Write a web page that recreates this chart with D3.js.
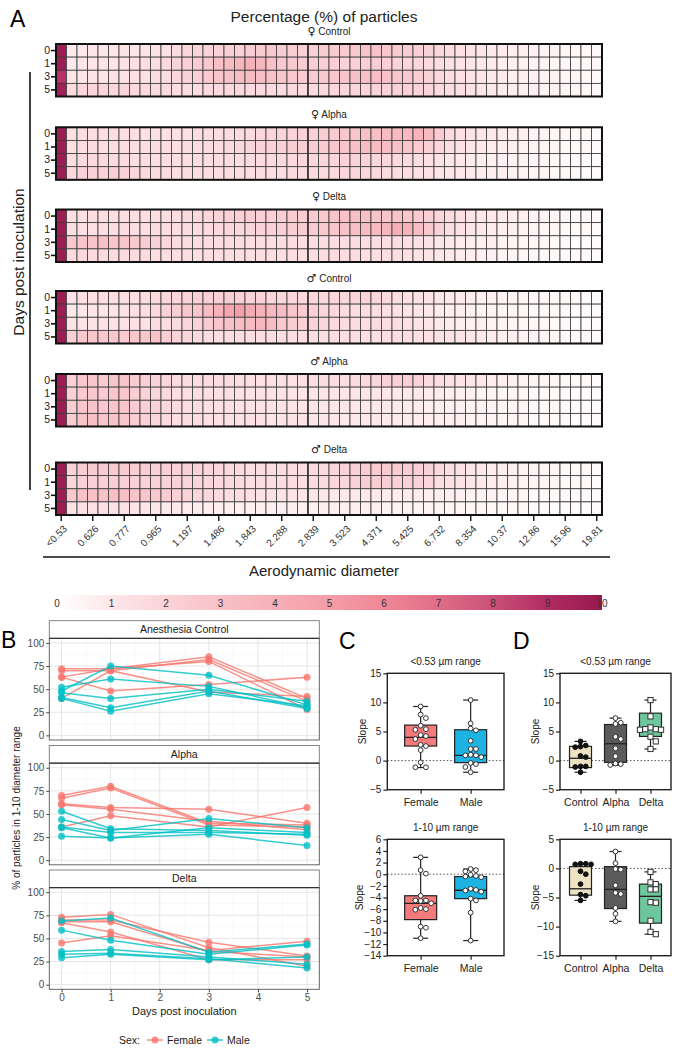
<!DOCTYPE html>
<html><head><meta charset="utf-8">
<script src="https://cdn.jsdelivr.net/npm/d3@7"></script>
<style>
body{margin:0;background:#fff}
svg{display:block;font-family:"Liberation Sans",Arial,Helvetica,sans-serif}
</style>
</head><body>
<svg id="c" width="678" height="1049"></svg>
<script>
// ---------------- DATA ----------------
const sizeBins = ["<0.53","0.542","0.583","0.626","0.673","0.723","0.777","0.835","0.898","0.965","1.037","1.114","1.197","1.286","1.382","1.486","1.596","1.715","1.843","1.981","2.129","2.288","2.458","2.642","2.839","3.051","3.278","3.523","3.786","4.068","4.371","4.698","5.048","5.425","5.829","6.264","6.732","7.234","7.774","8.354","8.977","9.647","10.37","11.14","11.97","12.86","13.82","14.86","15.96","17.15","18.43","19.81"];
const sizeTickLabels = ["<0.53","0.626","0.777","0.965","1.197","1.486","1.843","2.288","2.839","3.523","4.371","5.425","6.732","8.354","10.37","12.86","15.96","19.81"];
const dayRows = ["0","1","3","5"];
const heatSymbols = ["\u2640","\u2640","\u2640","\u2642","\u2642","\u2642"];
const heatTitles = ["Control","Alpha","Delta","Control","Alpha","Delta"];
const colorbarTicks = [0,1,2,3,4,5,6,7,8,9,10];

const fControl = [
[9.8, 0.8,0.9,1.0,1.0,1.0,1.1,1.0,1.1,1.2,1.2, 1.6,1.8,1.9,2.0,2.1,2.2,2.2,2.3,2.4,2.6,2.4,2.3,2.2,2.2, 2.3,2.4,2.5,2.6,2.8,2.9,2.7,2.5,2.3,2.2,2.0,1.8, 1.5,1.3,1.1,1.0,0.9,0.8,0.7,0.6,0.6,0.5,0.5,0.4,0.4,0.3,0.3],
[9.8, 0.9,1.0,1.0,1.1,1.1,1.2,1.3,1.4,1.5,1.7, 2.0,2.2,2.4,2.6,3.0,3.3,3.6,3.8,3.6,3.0,2.7,2.5,2.4,2.3, 2.2,2.2,2.1,2.1,2.2,2.3,2.2,2.0,1.9,1.8,1.6,1.5, 1.3,1.1,1.0,0.9,0.8,0.7,0.6,0.6,0.5,0.5,0.4,0.4,0.3,0.3,0.3],
[8.8, 1.0,1.0,1.1,1.1,1.2,1.2,1.3,1.3,1.4,1.5, 1.8,2.0,2.2,2.5,2.8,3.0,3.2,3.3,3.2,3.0,2.8,2.6,2.5,2.5, 2.6,2.7,2.9,3.0,3.1,3.2,3.0,2.8,2.6,2.3,2.0,1.7, 1.5,1.3,1.1,1.0,0.9,0.8,0.7,0.6,0.6,0.5,0.5,0.4,0.4,0.3,0.3],
[9.6, 1.6,1.8,1.8,1.9,1.8,1.8,1.7,1.7,1.6,1.6, 1.5,1.5,1.5,1.6,1.6,1.7,1.7,1.7,1.6,1.6,1.6,1.6,1.6,1.6, 1.7,1.8,1.8,1.9,1.9,2.0,2.0,2.1,2.1,2.0,1.8,1.6, 1.4,1.3,1.2,1.0,0.9,0.8,0.7,0.6,0.6,0.5,0.5,0.4,0.4,0.3,0.3]];
const fAlpha = [
[9.8, 1.3,1.4,1.4,1.5,1.5,1.4,1.4,1.3,1.3,1.3, 1.3,1.3,1.4,1.4,1.5,1.5,1.6,1.7,1.8,1.9,2.0,2.0,2.1,2.2, 2.3,2.4,2.6,2.8,3.0,3.1,3.3,3.4,3.5,3.8,3.4,2.5, 1.6,1.3,1.1,1.0,0.9,0.8,0.7,0.6,0.5,0.5,0.4,0.4,0.3,0.3,0.2],
[9.8, 1.3,1.4,1.5,1.5,1.5,1.5,1.4,1.4,1.4,1.4, 1.4,1.5,1.5,1.6,1.6,1.7,1.8,1.9,2.0,2.1,2.2,2.3,2.3,2.4, 2.5,2.7,2.9,3.1,3.2,3.3,3.2,3.0,2.8,2.5,2.2,1.9, 1.5,1.2,1.0,0.9,0.8,0.7,0.6,0.5,0.5,0.4,0.4,0.3,0.3,0.3,0.2],
[9.8, 1.5,1.6,1.7,1.7,1.6,1.6,1.5,1.5,1.4,1.4, 1.4,1.4,1.4,1.4,1.5,1.5,1.5,1.6,1.6,1.6,1.7,1.7,1.8,1.8, 1.9,1.9,2.0,2.0,2.0,1.9,1.8,1.7,1.6,1.5,1.3,1.2, 1.0,0.9,0.8,0.7,0.6,0.6,0.5,0.5,0.4,0.4,0.3,0.3,0.3,0.2,0.2],
[9.8, 1.8,2.0,2.1,2.1,2.2,2.0,1.8,1.7,1.6,1.5, 1.5,1.5,1.4,1.4,1.4,1.4,1.5,1.5,1.5,1.5,1.5,1.6,1.6,1.6, 1.7,1.7,1.8,1.8,1.8,1.7,1.6,1.5,1.4,1.3,1.2,1.1, 1.0,0.9,0.8,0.7,0.6,0.6,0.5,0.5,0.4,0.4,0.3,0.3,0.3,0.2,0.2]];
const fDelta = [
[9.8, 1.3,1.3,1.4,1.4,1.4,1.4,1.4,1.4,1.4,1.5, 1.5,1.6,1.7,1.8,2.0,2.1,2.2,2.3,2.2,2.2,2.3,2.4,2.4,2.5, 2.6,2.8,3.0,3.1,3.0,2.9,2.8,2.8,2.7,2.5,2.2,1.9, 1.6,1.3,1.1,1.0,0.9,0.8,0.7,0.6,0.5,0.5,0.4,0.4,0.3,0.3,0.3],
[9.8, 1.3,1.3,1.3,1.4,1.4,1.4,1.4,1.4,1.4,1.4, 1.5,1.5,1.6,1.6,1.7,1.8,1.8,1.9,2.0,2.1,2.2,2.3,2.4,2.5, 2.6,2.8,3.0,3.1,3.2,3.4,3.6,4.0,3.8,3.2,2.6,2.0, 1.5,1.2,1.0,0.9,0.8,0.7,0.6,0.5,0.5,0.4,0.4,0.3,0.3,0.3,0.2],
[9.8, 2.6,2.8,2.9,3.0,2.8,2.7,2.6,2.4,2.0,1.8, 1.6,1.5,1.5,1.5,1.5,1.4,1.4,1.4,1.4,1.4,1.4,1.4,1.4,1.4, 1.5,1.5,1.5,1.5,1.5,1.5,1.4,1.4,1.3,1.2,1.1,1.0, 0.9,0.8,0.7,0.6,0.6,0.5,0.5,0.4,0.4,0.3,0.3,0.3,0.2,0.2,0.2],
[9.8, 1.6,1.7,1.7,1.7,1.6,1.6,1.6,1.6,1.5,1.5, 1.5,1.5,1.5,1.5,1.4,1.4,1.4,1.4,1.4,1.5,1.5,1.5,1.5,1.5, 1.6,1.6,1.6,1.6,1.5,1.5,1.4,1.4,1.3,1.2,1.1,1.0, 0.9,0.8,0.7,0.6,0.6,0.5,0.5,0.4,0.4,0.3,0.3,0.3,0.2,0.2,0.2]];
const mControl = [
[9.8, 1.2,1.3,1.3,1.4,1.4,1.5,1.5,1.6,1.7,1.8, 1.9,2.0,2.1,2.2,2.2,2.3,2.2,2.1,2.0,1.9,1.9,1.8,1.8,1.8, 1.8,1.8,1.9,1.9,2.0,1.9,1.7,1.5,1.3,1.2,1.1,1.0, 0.9,0.8,0.7,0.6,0.6,0.5,0.5,0.4,0.4,0.4,0.3,0.3,0.3,0.2,0.2],
[9.8, 0.9,0.9,1.0,1.0,1.1,1.2,1.3,1.5,1.7,2.0, 2.3,2.6,2.8,3.2,3.8,4.5,4.8,4.2,3.8,3.5,3.2,2.8,2.5,2.2, 1.9,1.7,1.6,1.5,1.5,1.4,1.3,1.2,1.1,1.0,0.9,0.8, 0.7,0.6,0.6,0.5,0.5,0.4,0.4,0.4,0.3,0.3,0.3,0.3,0.2,0.2,0.2],
[9.8, 1.1,1.1,1.1,1.2,1.2,1.2,1.3,1.3,1.4,1.5, 1.6,1.8,2.0,2.4,2.7,3.0,3.2,3.3,3.6,3.2,2.6,2.3,2.1,2.0, 1.8,1.7,1.6,1.5,1.5,1.6,1.5,1.4,1.2,1.1,1.0,0.9, 0.8,0.7,0.6,0.6,0.5,0.5,0.4,0.4,0.4,0.3,0.3,0.3,0.2,0.2,0.2],
[9.8, 2.2,2.6,2.8,2.6,2.6,2.5,2.7,2.8,2.9,2.3, 2.0,1.8,1.6,1.5,1.5,1.5,1.4,1.4,1.4,1.4,1.4,1.4,1.4,1.4, 1.4,1.4,1.4,1.4,1.3,1.3,1.4,1.5,1.4,1.3,1.3,1.2, 1.2,1.1,1.0,0.9,0.8,0.7,0.6,0.5,0.5,0.4,0.4,0.3,0.3,0.3,0.2]];
const mAlpha = [
[9.8, 2.2,2.6,2.7,2.5,2.8,2.9,2.4,2.2,2.0,1.8, 1.6,1.5,1.5,1.4,1.4,1.4,1.3,1.3,1.3,1.3,1.3,1.3,1.3,1.4, 1.4,1.5,1.5,1.6,1.7,1.8,2.0,2.2,2.2,2.0,1.6,1.4, 1.2,1.1,1.0,0.9,0.8,0.7,0.6,0.5,0.5,0.4,0.4,0.3,0.3,0.3,0.2],
[9.8, 2.1,2.5,2.6,2.5,2.7,2.7,2.3,2.1,1.9,1.7, 1.5,1.4,1.4,1.3,1.3,1.3,1.2,1.2,1.2,1.2,1.2,1.1,1.1,1.1, 1.1,1.0,1.0,1.0,1.0,1.0,1.0,0.9,0.9,0.9,0.8,0.8, 0.7,0.6,0.6,0.5,0.5,0.4,0.4,0.4,0.3,0.3,0.3,0.3,0.2,0.2,0.2],
[9.8, 2.3,2.7,2.9,2.6,2.8,2.8,2.4,2.2,2.0,1.8, 1.6,1.5,1.4,1.3,1.3,1.3,1.2,1.2,1.2,1.2,1.2,1.1,1.1,1.1, 1.0,1.0,1.0,0.9,0.9,0.9,0.9,0.8,0.8,0.8,0.7,0.7, 0.6,0.6,0.5,0.5,0.5,0.4,0.4,0.4,0.3,0.3,0.3,0.3,0.2,0.2,0.2],
[9.8, 2.4,2.9,3.1,2.7,2.9,2.7,2.3,2.1,1.9,1.7, 1.5,1.4,1.4,1.3,1.3,1.2,1.2,1.2,1.2,1.1,1.1,1.1,1.1,1.0, 1.0,1.0,0.9,0.9,0.9,0.9,0.8,0.8,0.8,0.7,0.7,0.7, 0.6,0.6,0.5,0.5,0.5,0.4,0.4,0.4,0.3,0.3,0.3,0.3,0.2,0.2,0.2]];
const mDelta = [
[9.8, 2.0,2.3,2.4,2.4,2.5,2.4,2.3,2.3,2.2,2.2, 2.1,2.0,2.0,1.9,1.8,1.7,1.6,1.5,1.5,1.5,1.5,1.5,1.5,1.6, 1.7,1.8,2.0,2.2,2.4,2.5,2.5,2.4,2.3,2.2,2.0,1.7, 1.4,1.2,1.0,0.9,0.8,0.7,0.6,0.5,0.5,0.4,0.4,0.3,0.3,0.3,0.2],
[9.8, 1.9,2.1,2.2,2.2,2.3,2.2,2.2,2.1,2.1,2.0, 2.0,1.9,1.9,1.8,1.7,1.7,1.6,1.5,1.5,1.5,1.5,1.5,1.5,1.6, 1.7,1.8,1.9,2.1,2.3,2.4,2.3,2.2,2.1,2.0,1.8,1.5, 1.3,1.1,1.0,0.9,0.8,0.7,0.6,0.5,0.5,0.4,0.4,0.3,0.3,0.3,0.2],
[9.8, 2.6,2.9,3.0,3.0,3.1,3.0,2.9,2.8,2.6,2.4, 2.2,2.0,1.9,1.8,1.6,1.5,1.4,1.3,1.2,1.2,1.1,1.1,1.0,1.0, 1.0,0.9,0.9,0.9,0.9,0.9,0.8,0.8,0.8,0.8,0.7,0.7, 0.6,0.6,0.5,0.5,0.5,0.4,0.4,0.4,0.3,0.3,0.3,0.3,0.2,0.2,0.2],
[9.8, 1.2,1.3,1.3,1.3,1.2,1.2,1.1,1.0,1.0,0.9, 0.9,0.8,0.8,0.7,0.7,0.7,0.6,0.6,0.6,0.6,0.6,0.6,0.6,0.6, 0.6,0.6,0.6,0.6,0.6,0.6,0.5,0.5,0.5,0.5,0.5,0.5, 0.4,0.4,0.4,0.4,0.3,0.3,0.3,0.3,0.3,0.3,0.2,0.2,0.2,0.2,0.2]];

// Panel B: % of particles in 1-10 range, days 0,1,3,5 (one row per animal)
const bDays = [0,1,3,5];
const bFacets = ["Anesthesia Control","Alpha","Delta"];
const ctrlFemale = [[72,72,85,40],[70,70,82,37],[63,72,80,28],[63,48,55,63],[40,70,47,42]];
const ctrlMale   = [[48,75,65,33],[52,61,53,30],[46,40,50,37],[41,30,48,29],[40,26,45,32]];
const alphaFemale= [[70,80,40,38],[67,78,38,36],[61,57,55,40],[60,55,42,33],[36,48,36,57]];
const alphaMale  = [[53,34,32,27],[44,32,45,35],[36,30,30,28],[35,24,35,30],[26,24,28,16]];
const deltaFemale= [[73,76,40,20],[70,70,46,31],[68,68,36,30],[67,57,27,27],[45,53,37,47]];
const deltaMale  = [[69,72,35,44],[59,48,33,43],[36,38,30,22],[33,34,28,18],[29,33,27,30]];

// Panel C: slopes by sex
const cGroups = ["Female","Male"];
const cSmallFemale = [9.3,7.9,7.3,6.0,5.4,5.3,4.4,4.2,3.7,2.7,2.5,1.8,-0.3,-1.15,-1.15];
const cSmallMale   = [10.4,6.4,5.5,5.2,3.4,2.0,2.0,1.0,0.9,0.9,0.6,-0.4,-0.6,-1.1,-2.0];
const cLargeFemale = [2.9,0.7,0.1,-3.7,-4.5,-4.5,-4.6,-5.0,-5.8,-6.0,-6.1,-9.0,-9.2,-11.0];
const cLargeMale   = [0.9,0.7,0.5,-0.1,-0.3,-0.4,-0.5,-2.5,-2.7,-2.8,-3.0,-4.2,-4.5,-6.6,-11.4];
const cSmallBox = [{min:-1.2,q1:2.5,med:4.0,q3:6.1,max:9.3},{min:-2.0,q1:-0.35,med:0.9,q3:5.3,max:10.4}];
const cLargeBox = [{min:-11.0,q1:-7.8,med:-5.0,q3:-3.7,max:2.9},{min:-11.4,q1:-4.2,med:-2.75,q3:-0.4,max:0.9}];

// Panel D: slopes by variant
const dGroups = ["Control","Alpha","Delta"];
const dSmallControl = [3.3,2.6,2.4,2.3,0.8,0.6,-1.0,-1.0,-1.1,-2.0];
const dSmallAlpha   = [7.3,6.5,6.3,4.1,3.7,2.1,0.75,-0.5,-0.6,-0.75];
const dSmallDelta   = [10.4,7.6,5.7,5.4,5.4,5.3,5.3,4.1,3.3,2.0];
const dLargeControl = [0.8,0.8,0.7,0.7,-0.5,-1.0,-2.7,-4.5,-4.7,-5.5];
const dLargeAlpha   = [2.9,0.9,-0.1,-0.2,-2.9,-4.2,-4.4,-6.8,-7.8,-9.1];
const dLargeDelta   = [-0.6,-2.4,-2.7,-3.6,-3.6,-5.8,-5.9,-9.0,-10.9,-11.3];
const dSmallBox = [{min:-2.0,q1:-1.2,med:0.4,q3:2.45,max:3.3},{min:-0.8,q1:-0.3,med:2.9,q3:6.2,max:7.3},{min:2.0,q1:4.15,med:5.4,q3:8.15,max:10.4}];
const dLargeBox = [{min:-5.5,q1:-4.6,med:-3.5,q3:0.3,max:0.8},{min:-9.1,q1:-6.9,med:-3.6,q3:0.3,max:2.9},{min:-11.3,q1:-9.4,med:-4.8,q3:-2.7,max:-0.6}];

// ---------------- DRAW ----------------
const svg = d3.select("#c");
svg.append("rect").attr("width",678).attr("height",1049).attr("fill","#fff");
const FONT = "Liberation Sans, Arial, sans-serif";

const heatColor = d3.scaleLinear()
  .domain([0,1,2,3,4,5,6,7,8,9,10])
  .range(["#ffffff","#fde6e9","#fad3d8","#f8c1c7","#f6afb7","#f39da7","#ef8796","#e06d87","#ca5079","#b02b61","#961a4e"])
  .clamp(true);

// Panel A
svg.append("text").attr("x",10).attr("y",27).attr("font-size",23).text("A");
svg.append("text").attr("x",324).attr("y",22).attr("text-anchor","middle").attr("font-size",15.5).attr("fill","#222").text("Percentage (%) of particles");

const hmX = d3.scaleBand().domain(sizeBins).range([56,602]);
const hmTops = [44,127.3,209.5,291,374,462.5];
const hmH = 52.5;
const hmData = [fControl,fAlpha,fDelta,mControl,mAlpha,mDelta];

hmData.forEach((rows,pi)=>{
  const top = hmTops[pi];
  const y = d3.scaleBand().domain(dayRows).range([top, top+hmH]);
  const g = svg.append("g");
  const t = svg.append("text").attr("x",329).attr("y",top-13).attr("dy","0.35em").attr("text-anchor","middle")
    .attr("font-size",10).attr("fill","#222");
  t.append("tspan").attr("font-family","DejaVu Sans").attr("font-size",11).text(heatSymbols[pi]);
  t.append("tspan").text(" "+heatTitles[pi]);
  rows.forEach((vals,ri)=>{
    g.selectAll(null).data(vals).enter().append("rect")
      .attr("x",(d,i)=>hmX(sizeBins[i])).attr("y",y(dayRows[ri]))
      .attr("width",hmX.bandwidth()).attr("height",y.bandwidth())
      .attr("fill",d=>heatColor(d))
      .attr("stroke","#3a3a3a").attr("stroke-width",0.8);
  });
  g.append("line").attr("x1",hmX(sizeBins[24])).attr("x2",hmX(sizeBins[24])).attr("y1",top).attr("y2",top+hmH).attr("stroke","#222").attr("stroke-width",1.3);
  g.append("rect").attr("x",56).attr("y",top).attr("width",546).attr("height",hmH)
    .attr("fill","none").attr("stroke","#111").attr("stroke-width",2);
  const ax = d3.axisLeft(y).tickSize(4).tickPadding(1);
  const ag = svg.append("g").attr("transform","translate(55,0)").call(ax);
  ag.select(".domain").remove();
  ag.selectAll("line").attr("stroke","#111").attr("stroke-width",1.6);
  ag.selectAll("text").attr("font-size",10.5).attr("fill","#222").attr("font-family",FONT);
});

// x axis of heatmap
const tickIdx = sizeTickLabels.map((l,i)=>sizeBins[i*3]);
const xa = d3.axisBottom(hmX).tickValues(tickIdx).tickSize(5).tickFormat((d,i)=>sizeTickLabels[i]);
const xg = svg.append("g").attr("transform",`translate(0,${hmTops[5]+hmH+1})`).call(xa);
xg.select(".domain").remove();
xg.selectAll("line").attr("stroke","#111").attr("stroke-width",1.4);
xg.selectAll("text").attr("font-size",10).attr("fill","#333").attr("font-family",FONT)
  .attr("text-anchor","end").attr("x",0).attr("y",0).attr("dy","0.35em").attr("transform","translate(4,11) rotate(-45)");
svg.append("line").attr("x1",43).attr("x2",610).attr("y1",557).attr("y2",557).attr("stroke","#111").attr("stroke-width",1.6);
svg.append("text").attr("x",324).attr("y",576).attr("text-anchor","middle").attr("font-size",15).attr("fill","#222").text("Aerodynamic diameter");

// Days post inoculation
svg.append("line").attr("x1",30).attr("x2",30).attr("y1",72).attr("y2",490).attr("stroke","#111").attr("stroke-width",1.6);
svg.append("text").attr("transform","translate(24,262) rotate(-90)").attr("text-anchor","middle").attr("font-size",15.5).attr("fill","#222").text("Days post inoculation");

// colorbar
const cbX = d3.scaleLinear().domain([0,10]).range([57,602]);
const defs = svg.append("defs");
const grad = defs.append("linearGradient").attr("id","cbg").attr("x1","0%").attr("x2","100%");
d3.range(0,10.01,0.5).forEach(v=>grad.append("stop").attr("offset",(v/10*100)+"%").attr("stop-color",heatColor(v)));
svg.append("rect").attr("x",cbX(0)).attr("y",595).attr("width",cbX(10)-cbX(0)).attr("height",15).attr("fill","url(#cbg)");
svg.selectAll(null).data(colorbarTicks).enter().append("text")
  .attr("x",d=>cbX(d)).attr("y",603).attr("dy","0.35em").attr("text-anchor","middle")
  .attr("font-size",10).attr("fill","#333").text(d=>d);

// Panel B
svg.append("text").attr("x",1).attr("y",648).attr("font-size",23).text("B");
const bx = d3.scaleLinear().domain([-0.25,5.25]).range([49.3,319.3]);
const stripTops = [620.7,745.5,870];
const stripH = 17.6, panelH = 101.7;
const bData = [[ctrlFemale,ctrlMale],[alphaFemale,alphaMale],[deltaFemale,deltaMale]];
const femaleCol = "#F8766D", maleCol = "#00BFC4";
const bLine = (ys)=>d3.line().x((d,i)=>bx(bDays[i])).y(d=>ys(d));
bData.forEach((pair,fi)=>{
  const st = stripTops[fi];
  const pt = st+stripH, pb = pt+panelH;
  const by = d3.scaleLinear().domain([-5,105]).range([pb,pt]);
  const g = svg.append("g");
  g.append("rect").attr("x",49.3).attr("y",pt).attr("width",270).attr("height",panelH).attr("fill","#fff");
  [12.5,37.5,62.5,87.5].forEach(v=>g.append("line").attr("x1",49.3).attr("x2",319.3).attr("y1",by(v)).attr("y2",by(v)).attr("stroke","#f3f3f3").attr("stroke-width",0.6));
  [0.5,1.5,2.5,3.5,4.5].forEach(v=>g.append("line").attr("y1",pt).attr("y2",pb).attr("x1",bx(v)).attr("x2",bx(v)).attr("stroke","#f3f3f3").attr("stroke-width",0.6));
  [0,25,50,75,100].forEach(v=>g.append("line").attr("x1",49.3).attr("x2",319.3).attr("y1",by(v)).attr("y2",by(v)).attr("stroke","#e6e6e6").attr("stroke-width",1));
  [0,1,2,3,4,5].forEach(v=>g.append("line").attr("y1",pt).attr("y2",pb).attr("x1",bx(v)).attr("x2",bx(v)).attr("stroke","#e6e6e6").attr("stroke-width",1));
  pair.forEach((set,si)=>{
    const col = si===0?femaleCol:maleCol;
    set.forEach(animal=>{
      g.append("path").attr("d",bLine(by)(animal)).attr("fill","none").attr("stroke",col).attr("stroke-width",1.5).attr("opacity",0.8);
      g.selectAll(null).data(animal).enter().append("circle")
        .attr("cx",(d,i)=>bx(bDays[i])).attr("cy",d=>by(d)).attr("r",3.5).attr("fill",col).attr("opacity",0.8);
    });
  });
  g.append("rect").attr("x",49.3).attr("y",pt).attr("width",270).attr("height",panelH).attr("fill","none").attr("stroke","#555").attr("stroke-width",0.9);
  // strip
  g.append("rect").attr("x",49.3).attr("y",st).attr("width",270).attr("height",stripH).attr("fill","#fff").attr("stroke","#777").attr("stroke-width",0.9);
  g.append("line").attr("x1",49.3).attr("x2",319.3).attr("y1",pt).attr("y2",pt).attr("stroke","#333").attr("stroke-width",1.2);
  g.append("text").attr("x",184.3).attr("y",st+stripH/2).attr("dy","0.35em").attr("text-anchor","middle").attr("font-size",10.5).attr("fill","#1a1a1a").text(bFacets[fi]);
  const ay = d3.axisLeft(by).tickValues([0,25,50,75,100]).tickSize(3).tickPadding(2);
  const ag = svg.append("g").attr("transform","translate(49.3,0)").call(ay);
  ag.select(".domain").remove();
  ag.selectAll("line").attr("stroke","#444");
  ag.selectAll("text").attr("font-size",10).attr("fill","#4d4d4d").attr("font-family",FONT);
  if(fi===2){
    const axb = d3.axisBottom(bx).tickValues([0,1,2,3,4,5]).tickFormat(d3.format("d")).tickSize(3).tickPadding(2);
    const xg2 = svg.append("g").attr("transform",`translate(0,${pb})`).call(axb);
    xg2.select(".domain").remove();
    xg2.selectAll("line").attr("stroke","#444");
    xg2.selectAll("text").attr("font-size",10).attr("fill","#4d4d4d").attr("font-family",FONT);
  }
});
svg.append("text").attr("x",184.3).attr("y",1015).attr("text-anchor","middle").attr("font-size",11).attr("fill","#1a1a1a").text("Days post inoculation");
svg.append("text").attr("transform","translate(20,808) rotate(-90)").attr("text-anchor","middle").attr("font-size",10).attr("fill","#1a1a1a").text("% of particles in 1-10 diameter range");
// legend
const lg = svg.append("g");
lg.append("text").attr("x",119).attr("y",1040).attr("dy","0.35em").attr("font-size",10.5).attr("fill","#1a1a1a").text("Sex:");
[[femaleCol,147,"Female"],[maleCol,207,"Male"]].forEach(([c,x0,t])=>{
  lg.append("line").attr("x1",x0).attr("x2",x0+16).attr("y1",1040).attr("y2",1040).attr("stroke",c).attr("stroke-width",1.5).attr("opacity",0.8);
  lg.append("circle").attr("cx",x0+8).attr("cy",1040).attr("r",3.5).attr("fill",c).attr("opacity",0.8);
  lg.append("text").attr("x",x0+20).attr("y",1040).attr("dy","0.35em").attr("font-size",10.5).attr("fill","#1a1a1a").text(t);
});

// Panels C and D
svg.append("text").attr("x",339).attr("y",649).attr("font-size",23).text("C");
svg.append("text").attr("x",513).attr("y",649).attr("font-size",23).text("D");

function swarm(vals, ys, r){
  const order = vals.map((v,i)=>({v,i,y:ys(v)})).sort((a,b)=>a.y-b.y);
  const placed=[]; const out=new Array(vals.length);
  order.forEach(p=>{
    let xo=0;
    for(let t=0;t<20;t++){
      const cand = t===0?0:(t%2? 1:-1)*Math.ceil(t/2)*(r*2.2);
      if(placed.every(q=>Math.hypot(q.x-cand,q.y-p.y)>=2*r+0.4)){xo=cand;break;}
    }
    placed.push({x:xo,y:p.y}); out[p.i]=xo;
  });
  return out;
}

function boxPlot(cfg){
  const {x0,x1,y0,y1,domain,ticks,groups,boxes,points,colors,markers,boxW,capW,title,pad,labelX} = cfg;
  const ys = d3.scaleLinear().domain(domain).range([y1,y0]);
  const xs = d3.scalePoint().domain(groups).range([x0,x1]).padding(pad);
  const g = svg.append("g");
  g.append("text").attr("x",(x0+x1)/2).attr("y",y0-8.5).attr("text-anchor","middle").attr("font-size",10).attr("fill","#222").text(title);
  g.append("line").attr("x1",x0).attr("x2",x1).attr("y1",ys(0)).attr("y2",ys(0)).attr("stroke","#555").attr("stroke-width",1).attr("stroke-dasharray","1.5,2");
  groups.forEach((gname,gi)=>{
    const b = boxes[gi], cx = xs(gname);
    g.append("line").attr("x1",cx).attr("x2",cx).attr("y1",ys(b.max)).attr("y2",ys(b.min)).attr("stroke","#222").attr("stroke-width",1.2);
    [b.max,b.min].forEach(v=>g.append("line").attr("x1",cx-capW/2).attr("x2",cx+capW/2).attr("y1",ys(v)).attr("y2",ys(v)).attr("stroke","#222").attr("stroke-width",1.2));
    g.append("rect").attr("x",cx-boxW/2).attr("y",ys(b.q3)).attr("width",boxW).attr("height",ys(b.q1)-ys(b.q3))
      .attr("fill",colors[gi]).attr("stroke","#222").attr("stroke-width",1.2);
    g.append("line").attr("x1",cx-boxW/2).attr("x2",cx+boxW/2).attr("y1",ys(b.med)).attr("y2",ys(b.med)).attr("stroke","#222").attr("stroke-width",1.3);
    const r = 2.4;
    const offs = swarm(points[gi],ys,r);
    points[gi].forEach((v,i)=>{
      const m = markers[gi];
      if(m==="square"){
        g.append("rect").attr("x",cx+offs[i]-2.6).attr("y",ys(v)-2.6).attr("width",5.2).attr("height",5.2).attr("fill","#fff").attr("stroke","#333").attr("stroke-width",1);
      } else {
        g.append("circle").attr("cx",cx+offs[i]).attr("cy",ys(v)).attr("r",r)
          .attr("fill",m==="filled"?"#111":"#fff").attr("stroke",m==="filled"?"#111":"#333").attr("stroke-width",1);
      }
    });
  });
  g.append("rect").attr("x",x0).attr("y",y0).attr("width",x1-x0).attr("height",y1-y0).attr("fill","none").attr("stroke","#222").attr("stroke-width",1.4);
  const ay = d3.axisLeft(ys).tickValues(ticks).tickSize(4).tickPadding(2);
  const ag = svg.append("g").attr("transform",`translate(${x0},0)`).call(ay);
  ag.select(".domain").remove();
  ag.selectAll("line").attr("stroke","#222").attr("stroke-width",1.2);
  ag.selectAll("text").attr("font-size",10).attr("fill","#222").attr("font-family",FONT);
  const ax = d3.axisBottom(xs).tickSize(4).tickPadding(5);
  const xg = svg.append("g").attr("transform",`translate(0,${y1})`).call(ax);
  xg.select(".domain").remove();
  xg.selectAll("line").attr("stroke","#222").attr("stroke-width",1.2);
  xg.selectAll("text").attr("font-size",10.5).attr("fill","#222").attr("font-family",FONT);
  svg.append("text").attr("transform",`translate(${labelX},${(y0+y1)/2}) rotate(-90)`).attr("text-anchor","middle").attr("dy","0.35em").attr("font-size",10).attr("fill","#222").text("Slope");
}

const cCols = ["#f47a7c","#1db4e3"];
const dCols = ["#ede3c4","#5b5b5b","#6dc69c"];
const dMarks = ["filled","open","square"];
boxPlot({x0:387.3,x1:504,y0:673.3,y1:789.7,domain:[-5,15],ticks:[-5,0,5,10,15],groups:cGroups,boxes:cSmallBox,points:[cSmallFemale,cSmallMale],colors:cCols,markers:["open","open"],boxW:32,capW:15,title:"<0.53 \u00b5m range",pad:0.667,labelX:362});
boxPlot({x0:387.3,x1:504,y0:839.3,y1:955.7,domain:[-14,6],ticks:d3.range(-14,7,2),groups:cGroups,boxes:cLargeBox,points:[cLargeFemale,cLargeMale],colors:cCols,markers:["open","open"],boxW:32,capW:15,title:"1-10 \u00b5m range",pad:0.667,labelX:359});
boxPlot({x0:560,x1:671,y0:673.3,y1:789.7,domain:[-5,15],ticks:[-5,0,5,10,15],groups:dGroups,boxes:dSmallBox,points:[dSmallControl,dSmallAlpha,dSmallDelta],colors:dCols,markers:dMarks,boxW:22,capW:12,title:"<0.53 \u00b5m range",pad:0.586,labelX:535});
boxPlot({x0:560,x1:671,y0:839.3,y1:955.7,domain:[-15,5],ticks:[-15,-10,-5,0,5],groups:dGroups,boxes:dLargeBox,points:[dLargeControl,dLargeAlpha,dLargeDelta],colors:dCols,markers:dMarks,boxW:22,capW:12,title:"1-10 \u00b5m range",pad:0.586,labelX:535});
</script>
</body></html>
